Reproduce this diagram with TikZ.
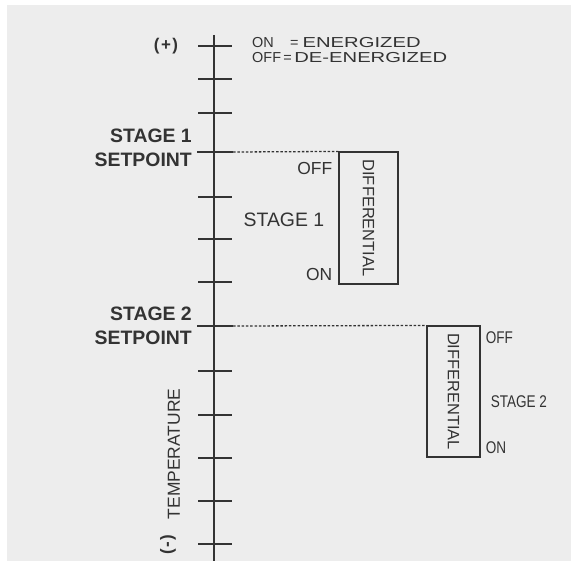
\documentclass[tikz,border=0pt]{standalone}
\usepackage{fontspec}
\setmainfont{Liberation Sans}
\newfontfamily\widefont[FakeStretch=1.4]{Liberation Sans}
\newfontfamily\narrowfont[FakeStretch=0.8]{Liberation Sans}
\usetikzlibrary{positioning}
\definecolor{ink}{HTML}{333333}
\definecolor{paper}{HTML}{EDEDED}
\tikzset{
  axisline/.style={draw=ink, line width=1.3pt},
  tickmark/.style={draw=ink, line width=1.1pt},
  setline/.style={draw=ink, line width=1.3pt, dash pattern=on 2.5bp off 1.8bp},
  diffbox/.style={draw=ink, line width=1.1pt, inner sep=0pt, text=ink,
                  font=\fontsize{16.5}{18}\selectfont},
  lbl/.style={text=ink, inner sep=0pt, font=\fontsize{17.5}{20}\selectfont},
  nlbl/.style={text=ink, inner sep=0pt, font=\fontsize{17}{20}\narrowfont},
  setlbl/.style={text=ink, inner sep=0pt, align=right, anchor=east,
                 font=\fontsize{19.5}{24}\selectfont\bfseries},
  keyline/.style={text=ink, inner sep=0pt, anchor=base west,
                  font=\fontsize{14.5}{16}\selectfont},
}

\begin{document}
\begin{tikzpicture}[x=1bp, y=-1bp]
  \useasboundingbox (0,0) rectangle (576,561);
  \fill[white] (0,0) rectangle (576,561);
  \fill[paper] (7,5) rectangle (571,561);

  % temperature axis
  \coordinate (axtop) at (214,35);
  \coordinate (axbot) at (214,561);
  \draw[axisline] (axtop) -- (axbot);
  \foreach \ty in {46,79,113,197,239,282,371,415,458,501,544}
    \draw[tickmark] (198,\ty) -- (232,\ty);
  \node[text=ink, inner sep=0pt, font=\fontsize{17}{18}\selectfont\bfseries]
    (plus) at (166,46) {(\kern1.5bp+\kern1.5bp)};
  \node[text=ink, inner sep=0pt, rotate=90, font=\fontsize{17}{18}\selectfont\bfseries]
    (minus) at (168,545) {(\kern1.5bp-\kern1.5bp)};
  \node[lbl, rotate=90] (temp) at (174,454) {TEMPERATURE};

  % legend
  \node[keyline] (key1) at (252,48) {\makebox[38bp][l]{ON}= {\widefont ENERGIZED}};
  \node[keyline] (key2) at (252,63) {OFF\,=\,{\widefont DE-ENERGIZED}};

  % stage 1
  \coordinate (sp1) at (233,152);
  \draw[tickmark] (197,152) -- (sp1);
  \node[setlbl] (sp1lbl) at (192,148) {STAGE 1\\SETPOINT};
  \node[diffbox, minimum width=59bp, minimum height=132bp]
    (diff1) at (368.5,218) {\rotatebox{-90}{DIFFERENTIAL}};
  \draw[setline] (sp1) -- (diff1.north west);
  \node[lbl, below left=11bp and 6bp of diff1.north west] (off1) {OFF};
  \node[lbl, above left=4bp and 6bp of diff1.south west] (on1) {ON};
  \node[lbl, left=14bp of diff1, yshift=-2bp, font=\fontsize{19.5}{22}\selectfont]
    (st1) {STAGE 1};

  % stage 2
  \coordinate (sp2) at (233,326);
  \draw[tickmark] (197,326) -- (sp2);
  \node[setlbl] (sp2lbl) at (192,326) {STAGE 2\\SETPOINT};
  \node[diffbox, minimum width=53bp, minimum height=131bp]
    (diff2) at (453.5,391.5) {\rotatebox{-90}{DIFFERENTIAL}};
  \draw[setline] (sp2) -- (diff2.north west);
  \node[nlbl, below right=6bp and 5bp of diff2.north east] (off2) {OFF};
  \node[nlbl, above right=4bp and 5bp of diff2.south east] (on2) {ON};
  \node[nlbl, right=10bp of diff2, yshift=-10bp] (st2) {STAGE 2};
\end{tikzpicture}
\end{document}
